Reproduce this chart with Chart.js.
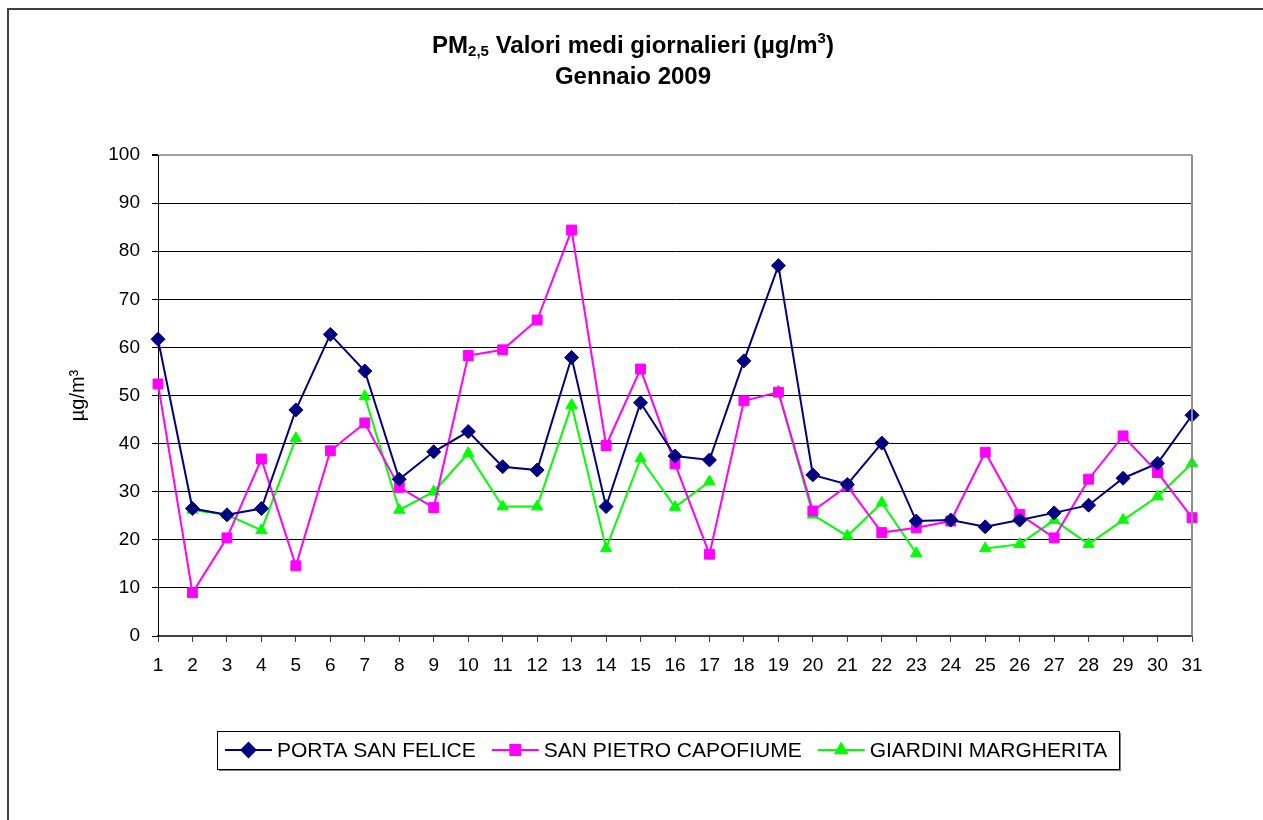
<!DOCTYPE html>
<html>
<head>
<meta charset="utf-8">
<script src="https://cdn.jsdelivr.net/npm/chart.js@4/dist/chart.umd.min.js"></script>
<style>
  html, body { margin: 0; padding: 0; background: #fff; }
  #wrap { position: relative; width: 1263px; height: 820px; overflow: hidden; }
  #frame { position: absolute; left: 7px; top: 8px; width: 1300px; height: 900px;
           border-left: 2px solid #404040; border-top: 2px solid #404040; }
  #title { position: absolute; left: 0; width: 1266px; top: 29px; text-align: center;
           font: bold 24px "Liberation Sans", Arial, sans-serif; line-height: 31px; color: #000; }
  #title sub { font-size: 15px; vertical-align: -3px; line-height: 0; }
  #title sup { font-size: 15px; vertical-align: 10px; line-height: 0; }
  canvas { position: absolute; left: 0; top: 0; }
</style>
</head>
<body>
<div id="wrap">
  <div id="frame"></div>
  <canvas id="chart" width="1263" height="820"></canvas>
  <div id="title">PM<sub>2,5</sub> Valori medi giornalieri (µg/m<sup>3</sup>)<br>Gennaio 2009</div>
</div>
<script>
const days = ['1','2','3','4','5','6','7','8','9','10','11','12','13','14','15','16',
  '17','18','19','20','21','22','23','24','25','26','27','28','29','30','31'];

const portaSanFelice = [61.7, 26.5, 25.2, 26.5, 47.0, 62.7, 55.1, 32.6, 38.3, 42.5, 35.2,
  34.5, 57.9, 26.9, 48.5, 37.4, 36.6, 57.2, 77.0, 33.5, 31.5, 40.1, 23.9, 24.1, 22.7,
  24.1, 25.6, 27.2, 32.8, 35.9, 45.9];

const sanPietroCapofiume = [52.4, 9.0, 20.4, 36.8, 14.6, 38.5, 44.3, 30.9, 26.7, 58.3, 59.5,
  65.7, 84.4, 39.6, 55.5, 35.8, 17.0, 48.9, 50.7, 26.0, 31.2, 21.5, 22.5, 23.9, 38.2,
  25.3, 20.4, 32.6, 41.6, 34.0, 24.6];

const giardiniMargherita = [null, 26.2, 25.2, 22.0, 41.1, null, 49.8, 26.2, 30.0, 38.0, 26.9,
  26.9, 48.0, 18.2, 36.9, 26.8, 32.1, null, 50.8, 25.2, 20.8, 27.7, 17.2, null, 18.2,
  19.1, 24.1, 19.1, 24.1, 29.0, 35.9];

const seriesNames = ['PORTA SAN FELICE', 'SAN PIETRO CAPOFIUME', 'GIARDINI MARGHERITA'];
const seriesColors = ['#000080', '#ff00ff', '#00ff00'];
const seriesMarkers = ['rectRot', 'rect', 'triangle'];
const markerSizes = [7, 7, 6.5];

const FONT = '"Liberation Sans", Arial, sans-serif';
Chart.defaults.font.family = FONT;
Chart.defaults.color = '#000';

function makeSet(i, values) {
  return {
    label: seriesNames[i],
    data: values,
    borderColor: seriesColors[i],
    backgroundColor: seriesColors[i],
    pointBackgroundColor: seriesColors[i],
    pointBorderColor: seriesColors[i],
    pointStyle: seriesMarkers[i],
    pointRadius: markerSizes[i],
    pointBorderWidth: 1,
    borderWidth: 2,
    tension: 0,
    spanGaps: false
  };
}

// legend in a framed box with a shadow, like the spreadsheet one
const boxLegend = {
  id: 'boxLegend',
  afterDraw(chart, args, opts) {
    const ctx = chart.ctx;
    const x0 = opts.left, y0 = opts.top, w = opts.width, h = opts.height;
    ctx.save();
    ctx.fillStyle = '#808080';
    ctx.fillRect(x0 + 2, y0 + 2, w, h);
    ctx.fillStyle = '#fff';
    ctx.fillRect(x0, y0, w, h);
    ctx.strokeStyle = '#000';
    ctx.lineWidth = 1;
    ctx.strokeRect(x0 + 0.5, y0 + 0.5, w, h);

    ctx.font = '21px ' + FONT;
    ctx.textBaseline = 'middle';
    const cy = y0 + h / 2;
    let x = x0 + 8;
    chart.data.datasets.forEach(ds => {
      ctx.strokeStyle = ds.borderColor;
      ctx.lineWidth = 2;
      ctx.beginPath();
      ctx.moveTo(x, cy);
      ctx.lineTo(x + 47, cy);
      ctx.stroke();
      ctx.fillStyle = ds.backgroundColor;
      Chart.helpers.drawPoint(ctx, {
        pointStyle: ds.pointStyle, radius: ds.pointRadius, borderWidth: 1, rotation: 0
      }, x + 23.5, cy);
      ctx.fillStyle = '#000';
      ctx.fillText(ds.label, x + 52, cy + 1);
      x += 52 + ctx.measureText(ds.label).width + 16;
    });
    ctx.restore();
  }
};

// grey right border of the plot area
const plotEdge = {
  id: 'plotEdge',
  afterDraw(chart) {
    const { ctx, chartArea: a } = chart;
    ctx.save();
    ctx.strokeStyle = '#909090';
    ctx.lineWidth = 2;
    ctx.beginPath();
    ctx.moveTo(a.right, a.top);
    ctx.lineTo(a.right, a.bottom);
    ctx.stroke();
    ctx.restore();
  }
};

new Chart(document.getElementById('chart'), {
  type: 'line',
  data: {
    labels: days,
    datasets: [
      makeSet(0, portaSanFelice),
      makeSet(1, sanPietroCapofiume),
      makeSet(2, giardiniMargherita)
    ]
  },
  options: {
    responsive: false,
    animation: false,
    layout: { padding: { left: 0, top: 155, right: 71, bottom: 120 } },
    plugins: {
      legend: { display: false },
      tooltip: { enabled: false },
      boxLegend: { left: 217, top: 731, width: 902, height: 38 }
    },
    scales: {
      x: {
        offset: false,
        grid: { drawOnChartArea: false, drawTicks: true, tickLength: 6, color: '#404040', lineWidth: 1 },
        border: { color: '#404040', width: 2 },
        ticks: { font: { size: 19 }, padding: 12, maxRotation: 0, autoSkip: false },
        afterFit(scale) { scale.height = 64; }
      },
      y: {
        min: 0,
        max: 100,
        ticks: { stepSize: 10, font: { size: 19 }, padding: 12 },
        grid: {
          color: c => (c.tick && c.tick.value === 100 ? '#a0a0a0' : '#000'),
          lineWidth: c => (c.tick && c.tick.value === 100 ? 2 : 1),
          tickColor: '#000',
          tickLength: 6
        },
        border: { color: '#000', width: 1 },
        title: { display: true, text: 'µg/m³', font: { size: 20 }, padding: { top: 66, bottom: 0 } },
        afterFit(scale) { scale.width = 158; }
      }
    }
  },
  plugins: [plotEdge, boxLegend]
});
</script>
</body>
</html>
